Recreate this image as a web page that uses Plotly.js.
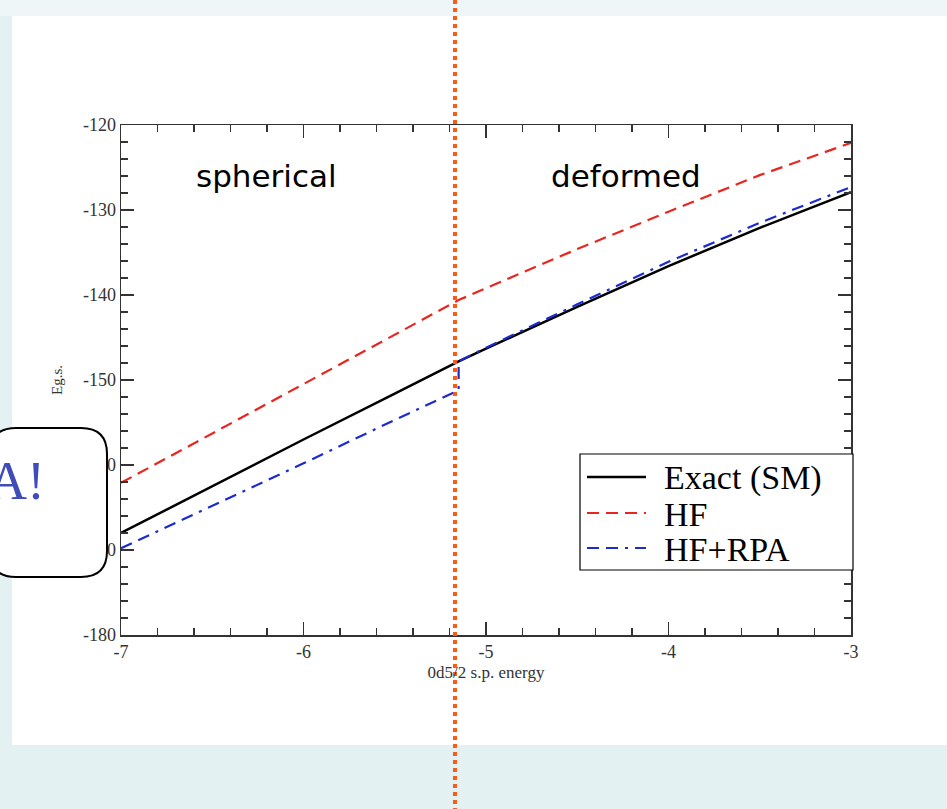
<!DOCTYPE html>
<html>
<head>
<meta charset="utf-8">
<script src="https://cdn.plot.ly/plotly-3.0.1.min.js"></script>
<style>html,body{margin:0;padding:0;background:#e4f1f3;}#chart{width:947px;height:809px;}</style>
</head>
<body>
<div id="chart"></div>
<script>
// Data
const seriesNames = ["Exact (SM)", "HF", "HF+RPA"];
const exactX = [-7, -6.5, -6, -5.5, -5.15, -5, -4.5, -4, -3.5, -3];
const exactY = [-168.0, -162.5, -157.0, -151.6, -147.8, -146.3, -141.4, -136.6, -132.1, -127.9];
const hfX = [-7, -6.5, -6, -5.5, -5.15, -5, -4.5, -4, -3.5, -3];
const hfY = [-162.1, -156.3, -150.5, -144.7, -140.6, -139.2, -134.6, -130.2, -125.9, -122.1];
const rpaX = [-7, -6.5, -6, -5.5, -5.15, -5.15, -5, -4.5, -4, -3.5, -3];
const rpaY = [-169.8, -164.8, -159.8, -154.7, -151.2, -147.8, -146.2, -141.1, -136.1, -131.5, -127.3];
const xTickVals = [-7, -6, -5, -4, -3];
const yTickVals = [-180, -170, -160, -150, -140, -130, -120];
const regionLabels = ["spherical", "deformed"];
const transitionX = -5.17;
const calloutText = "A!";

const W = 947, H = 809;
const M = {l: 121, r: 96, t: 125, b: 174};
const pw = W - M.l - M.r, ph = H - M.t - M.b;
const xRange = [-7, -3];
const px = v => (v - M.l) / pw;           // pixel x -> paper
const py = v => (H - M.b - v) / ph;       // pixel y -> paper
const dataToPaperX = v => (v - xRange[0]) / (xRange[1] - xRange[0]);

const serif = "Liberation Serif, Times New Roman, serif";
const styles = [
  {color: "#000000", width: 2.5, dash: "solid"},
  {color: "#e8251f", width: 2.2, dash: "12px,7px"},
  {color: "#1c2bd0", width: 2.2, dash: "12px,7px,12px,7px,3px,7px"}
];
const xs = [exactX, hfX, rpaX], ys = [exactY, hfY, rpaY];

const traces = seriesNames.map((n, i) => ({
  x: xs[i], y: ys[i], name: n, mode: "lines", type: "scatter",
  line: styles[i], showlegend: false
}));

// rounded callout path in paper coords
function roundRect(x0, y0, x1, y1, r) {
  const X = v => px(v), Y = v => py(v);
  return `M ${X(x0 + r)} ${Y(y0)} L ${X(x1 - r)} ${Y(y0)} Q ${X(x1)} ${Y(y0)} ${X(x1)} ${Y(y0 + r)} ` +
         `L ${X(x1)} ${Y(y1 - r)} Q ${X(x1)} ${Y(y1)} ${X(x1 - r)} ${Y(y1)} ` +
         `L ${X(x0 + r)} ${Y(y1)} Q ${X(x0)} ${Y(y1)} ${X(x0)} ${Y(y1 - r)} ` +
         `L ${X(x0)} ${Y(y0 + r)} Q ${X(x0)} ${Y(y0)} ${X(x0 + r)} ${Y(y0)} Z`;
}

const tx = dataToPaperX(transitionX);

const shapes = [
  {type: "rect", xref: "paper", yref: "paper", layer: "below",
   x0: px(12), x1: px(950), y0: py(16), y1: py(745),
   fillcolor: "#ffffff", line: {width: 0}},
  {type: "rect", xref: "paper", yref: "paper", layer: "below",
   x0: px(-5), x1: px(950), y0: py(-5), y1: py(16),
   fillcolor: "#eef6f7", line: {width: 0}},
  // legend box
  {type: "rect", xref: "paper", yref: "paper", layer: "above",
   x0: px(580), x1: px(853), y0: py(454), y1: py(570),
   fillcolor: "#ffffff", line: {color: "#000000", width: 1.2}},
  // transition line
  {type: "line", xref: "paper", yref: "paper", layer: "above",
   x0: tx, x1: tx, y0: py(812), y1: py(-3),
   line: {color: "#ff5a14", width: 4, dash: "4px,4px"}},
  {type: "path", xref: "paper", yref: "paper", layer: "above",
   path: roundRect(-10, 428, 107, 577, 26),
   fillcolor: "#ffffff", line: {color: "#000000", width: 2}}
];

const legendRowY = [477, 513, 548];
const annotations = [
  {text: regionLabels[0], xref: "paper", yref: "paper", x: px(266), y: py(176),
   xanchor: "center", yanchor: "middle",
   showarrow: false, font: {family: "DejaVu Sans, sans-serif", size: 31, color: "#000"}},
  {text: regionLabels[1], xref: "paper", yref: "paper", x: px(626), y: py(176),
   xanchor: "center", yanchor: "middle",
   showarrow: false, font: {family: "DejaVu Sans, sans-serif", size: 31, color: "#000"}},
  {text: calloutText, xref: "paper", yref: "paper", x: px(47), y: py(481),
   xanchor: "right", yanchor: "middle", showarrow: false,
   font: {family: serif, size: 54, color: "#3f4db8"}}
];

seriesNames.forEach((n, i) => {
  shapes.push({type: "line", xref: "paper", yref: "paper", layer: "above",
    x0: px(587), x1: px(646), y0: py(legendRowY[i]), y1: py(legendRowY[i]),
    line: styles[i]});
  annotations.push({text: n, xref: "paper", yref: "paper", x: px(663), y: py(legendRowY[i] + 1),
    xanchor: "left", yanchor: "middle", showarrow: false, borderpad: 0,
    font: {family: serif, size: 34, color: "#000"}});
});

const layout = {
  width: W, height: H,
  margin: M,
  paper_bgcolor: "#e4f1f3",
  plot_bgcolor: "#ffffff",
  showlegend: false,
  xaxis: {
    range: xRange, tickvals: xTickVals, ticktext: xTickVals.map(String),
    ticks: "inside", ticklen: 13, tickwidth: 1.3, tickcolor: "#333",
    minor: {dtick: 0.2, ticks: "inside", ticklen: 7, tickwidth: 1.2, tickcolor: "#333"},
    showline: true, linecolor: "#333", linewidth: 1.5, mirror: "allticks",
    showgrid: false, zeroline: false,
    tickfont: {family: serif, size: 18, color: "#333"},
    title: {text: "0d5/2 s.p. energy", font: {family: serif, size: 17, color: "#333"}, standoff: 5}
  },
  yaxis: {
    range: [-180, -120], tickvals: yTickVals, ticktext: yTickVals.map(String),
    ticks: "inside", ticklen: 13, tickwidth: 1.3, tickcolor: "#333",
    minor: {dtick: 2, ticks: "inside", ticklen: 7, tickwidth: 1.2, tickcolor: "#333"},
    showline: true, linecolor: "#333", linewidth: 1.5, mirror: "allticks",
    showgrid: false, zeroline: false,
    tickfont: {family: serif, size: 18, color: "#333"},
    title: {text: "Eg.s.", font: {family: serif, size: 15, color: "#333"}, standoff: 16}
  },
  shapes: shapes,
  annotations: annotations
};

Plotly.newPlot("chart", traces, layout, {displayModeBar: false, staticPlot: true});
</script>
</body>
</html>
